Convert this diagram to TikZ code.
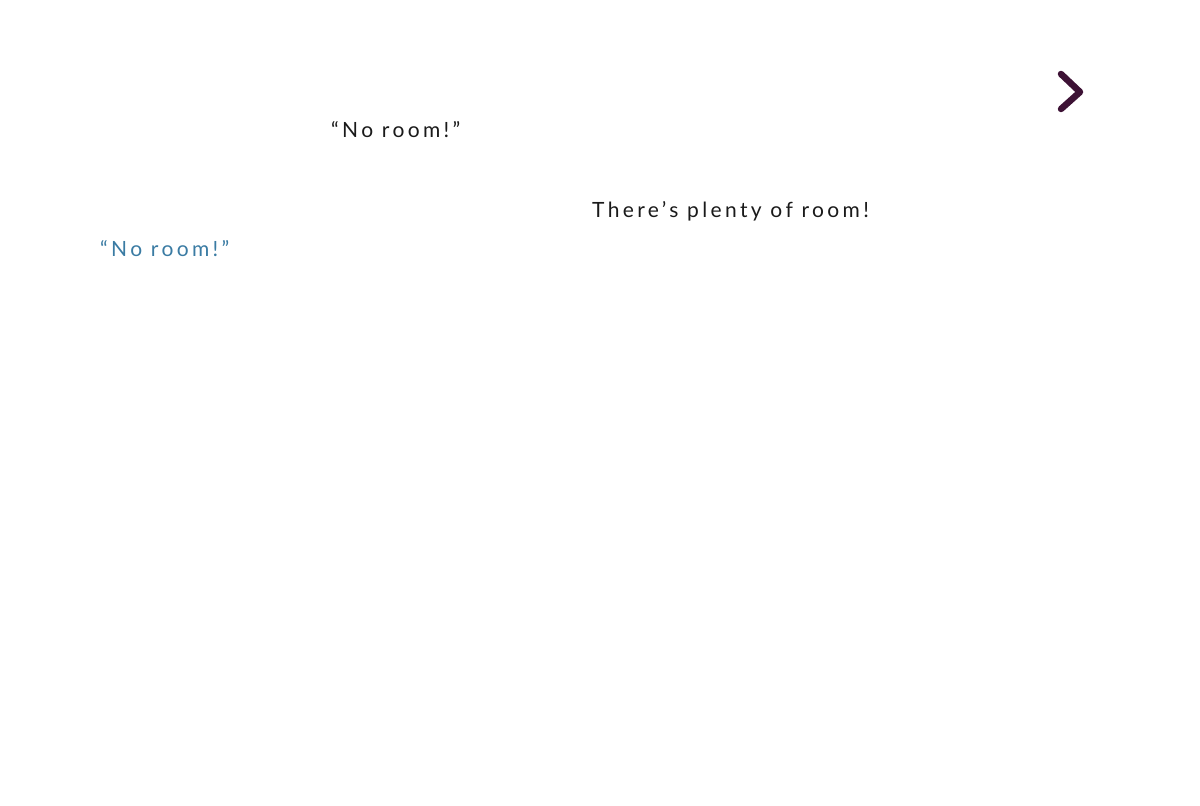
\documentclass[tikz,border=0pt]{standalone}
\usepackage{fontspec}
\setmainfont{Lato}[LetterSpace=16]
\definecolor{txtblack}{HTML}{1A1A1A}
\definecolor{txtblue}{HTML}{3A7BA3}
\definecolor{chev}{HTML}{3D1235}
\begin{document}
\begin{tikzpicture}[x=1pt,y=-1pt,
  lbl/.style={anchor=base west,inner sep=0pt,font=\fontsize{21}{25}\selectfont},
  chevstyle/.style={draw=chev,line width=6.5pt,line cap=round,line join=round}]
\useasboundingbox (0,0) rectangle (1200,806);
\node[lbl,text=txtblack] (q1) at (331,137) {“No room!”};
\node[lbl,text=txtblack] (plenty) at (592,217) {There’s plenty of room!};
\node[lbl,text=txtblue] (q2) at (100,256) {“No room!”};
\coordinate (c1) at (1061,74);
\coordinate (c2) at (1080,92);
\coordinate (c3) at (1061,109);
\draw[chevstyle] (c1) -- (c2) -- (c3);
\end{tikzpicture}
\end{document}
